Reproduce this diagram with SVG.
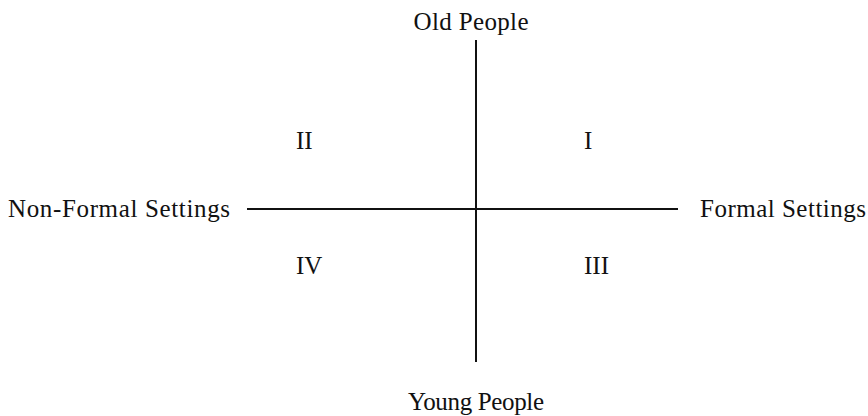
<svg xmlns="http://www.w3.org/2000/svg" width="868" height="416" viewBox="0 0 868 416">
<style>
text{font-family:"Liberation Serif","DejaVu Serif",serif;font-size:25px;fill:#111}
.axis{stroke:#111;stroke-width:2;fill:none}
</style>
<rect width="868" height="416" fill="#fff"/>
<g id="connectors">
<line class="axis" x1="476" y1="40" x2="476" y2="362"/>
<line class="axis" x1="247" y1="209" x2="678" y2="209"/>
</g>
<g id="old-people"><text x="471" y="30" text-anchor="middle" textLength="115">Old People</text></g>
<g id="young-people"><text x="476" y="410" text-anchor="middle" textLength="136">Young People</text></g>
<g id="non-formal"><text x="8" y="217" textLength="222">Non-Formal Settings</text></g>
<g id="formal"><text x="700" y="217" textLength="166">Formal Settings</text></g>
<g id="q2"><text x="296" y="149">II</text></g>
<g id="q1"><text x="584" y="149">I</text></g>
<g id="q4"><text x="296" y="274">IV</text></g>
<g id="q3"><text x="584" y="274">III</text></g>
</svg>
